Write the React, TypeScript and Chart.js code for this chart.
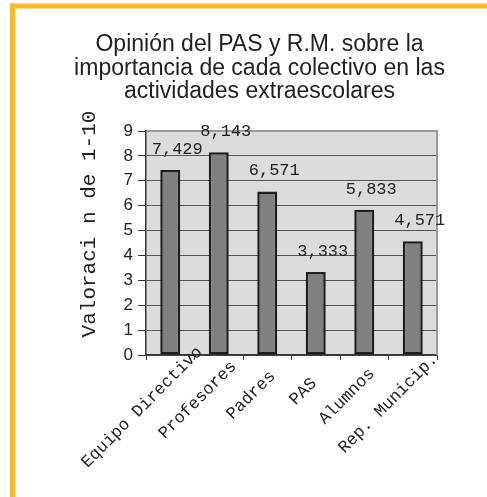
import React, { useEffect, useRef } from 'react';
import { Chart, registerables } from 'chart.js';

Chart.register(...registerables);

const categories = ['Equipo Directivo', 'Profesores', 'Padres', 'PAS', 'Alumnos', 'Rep. Municip.'];
const values = [7.429, 8.143, 6.571, 3.333, 5.833, 4.571];
const valueLabels = ['7,429', '8,143', '6,571', '3,333', '5,833', '4,571'];
const yMin = 0;
const yMax = 9;
const yStep = 1;
const titleLines = [
  'Opinión del PAS y R.M. sobre la',
  'importancia de cada colectivo en las',
  'actividades extraescolares',
];
const yTitle = 'Valoraci n de 1-10';

const SANS = '"Liberation Sans", Arial, sans-serif';
const MONO = '"Liberation Mono", "Courier New", monospace';
const TEXT = '#222222';

const decorPlugin = {
  id: 'decor',
  beforeDraw(chart: any) {
    const { ctx, chartArea: a, width, height } = chart;
    ctx.save();
    ctx.fillStyle = '#ffffff';
    ctx.fillRect(0, 0, width, height);
    ctx.fillStyle = '#FDB92B';
    ctx.fillRect(10, 3.5, width - 10, 5);
    ctx.fillRect(10, 3.5, 5, height - 3.5);
    ctx.fillStyle = '#dcdcdc';
    ctx.fillRect(a.left, a.top, a.right - a.left, a.bottom - a.top);
    ctx.restore();
  },
  beforeDatasetsDraw(chart: any) {
    const { ctx, chartArea: a } = chart;
    ctx.save();
    ctx.strokeStyle = '#9a9a9a';
    ctx.lineWidth = 2;
    ctx.beginPath();
    ctx.moveTo(a.left + 1, a.top);
    ctx.lineTo(a.right, a.top);
    ctx.lineTo(a.right, a.bottom);
    ctx.stroke();
    ctx.restore();
  },
  afterDraw(chart: any) {
    const { ctx, chartArea: a } = chart;
    ctx.save();
    ctx.fillStyle = TEXT;
    // Title
    ctx.font = `23px ${SANS}`;
    ctx.textAlign = 'center';
    ctx.textBaseline = 'alphabetic';
    const baselines = [51, 74.5, 98];
    titleLines.forEach((l, i) => ctx.fillText(l, 259.5, baselines[i]));

    // Y axis title
    ctx.save();
    ctx.font = `21px ${MONO}`;
    ctx.translate(95, 224);
    ctx.rotate(-Math.PI / 2);
    ctx.textAlign = 'center';
    ctx.textBaseline = 'alphabetic';
    ctx.fillText(yTitle, 0, 0);
    ctx.restore();

    // Data labels
    const meta = chart.getDatasetMeta(0);
    ctx.font = `17px ${MONO}`;
    ctx.textAlign = 'center';
    ctx.textBaseline = 'alphabetic';
    meta.data.forEach((bar: any, i: number) => {
      ctx.fillText(valueLabels[i], bar.x + 7, bar.y - 16);
    });

    // X labels
    const xs = chart.scales.x;
    ctx.font = `17px ${MONO}`;
    categories.forEach((c, i) => {
      const tx = xs.getPixelForValue(i);
      const L = ctx.measureText(c).width;
      const ex = tx - 9 + L * 0.2357;
      const ey = a.bottom + 33 - L * 0.2357;
      ctx.save();
      ctx.translate(ex, ey);
      ctx.rotate(-Math.PI / 4);
      ctx.textAlign = 'right';
      ctx.textBaseline = 'middle';
      ctx.fillText(c, 0, 0);
      ctx.restore();
    });
    ctx.restore();
  },
};

export default function App() {
  const ref = useRef<HTMLCanvasElement | null>(null);
  useEffect(() => {
    if (!ref.current) return;
    const chart = new Chart(ref.current, {
      type: 'bar',
      data: {
        labels: categories,
        datasets: [
          {
            data: values,
            backgroundColor: '#808082',
            borderColor: '#1e1e1e',
            borderWidth: 2.5,
            borderSkipped: false,
            barPercentage: 0.412,
            categoryPercentage: 1,
          },
        ],
      },
      options: {
        responsive: false,
        animation: false,
        devicePixelRatio: 1,
        layout: { padding: { left: 70, right: 50, top: 131, bottom: 137 } },
        plugins: {
          legend: { display: false },
          title: { display: false },
          tooltip: { enabled: false },
        },
        scales: {
          x: {
            type: 'category',
            offset: true,
            grid: {
              display: true,
              offset: true,
              drawOnChartArea: false,
              drawTicks: true,
              tickLength: 5,
              tickColor: '#333333',
              color: '#333333',
            },
            border: { display: true, color: '#333333', width: 1.5 },
            ticks: { display: false },
            afterFit: (s: any) => {
              s.height = 5;
            },
          },
          y: {
            min: yMin,
            max: yMax,
            ticks: {
              stepSize: yStep,
              color: TEXT,
              padding: 5,
              font: { family: SANS, size: 17 },
            },
            grid: {
              color: '#555555',
              lineWidth: 1,
              tickLength: 8,
              tickColor: '#333333',
            },
            border: { display: true, color: '#333333', width: 1.5 },
            afterFit: (s: any) => {
              s.width = 76;
            },
          },
        },
      },
      plugins: [decorPlugin],
    });
    return () => chart.destroy();
  }, []);
  return (
    <div style={{ position: 'absolute', left: 0, top: 0, width: 487, height: 497 }}>
      <canvas ref={ref} width={487} height={497} style={{ display: 'block' }} />
    </div>
  );
}
